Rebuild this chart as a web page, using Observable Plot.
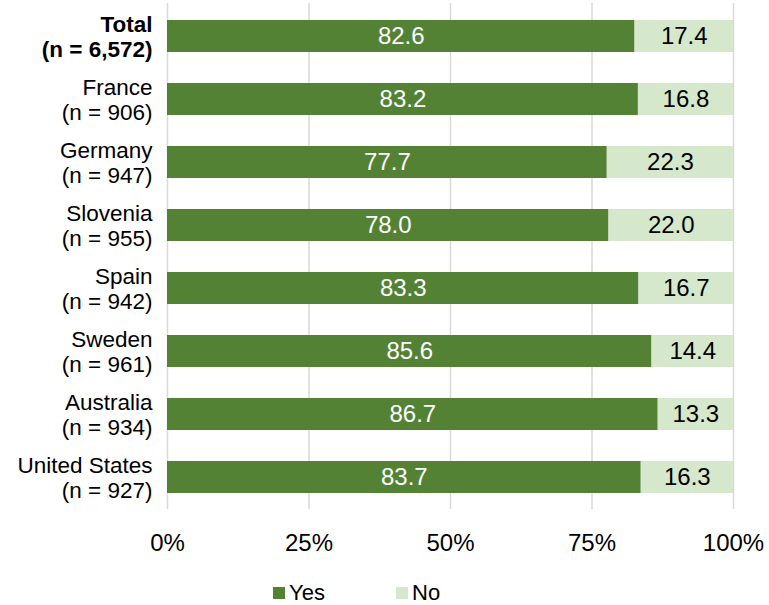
<!DOCTYPE html>
<html>
<head>
<meta charset="utf-8">
<script src="https://cdn.jsdelivr.net/npm/d3@7"></script>
<script src="https://cdn.jsdelivr.net/npm/@observablehq/plot@0.6"></script>
<style>
  body { margin: 0; background: #fff; font-family: "Liberation Sans", Arial, sans-serif; }
  #chart svg { display: block; }
  .legend { position: relative; height: 35px; font-size: 22px; color: #000; }
  .legend .item { position: absolute; top: 11px; display: flex; align-items: center; line-height: 24px; }
  .legend .sw { width: 12px; height: 12px; margin-right: 4px; display: inline-block; }
</style>
</head>
<body>
<div id="chart"></div>
<div class="legend">
  <div class="item" style="left:273px"><span class="sw" style="background:#548235"></span>Yes</div>
  <div class="item" style="left:396px"><span class="sw" style="background:#D5E8CB"></span>No</div>
</div>
<script>
const categories = ["Total", "France", "Germany", "Slovenia", "Spain", "Sweden", "Australia", "United States"];
const sampleSizes = ["6,572", "906", "947", "955", "942", "961", "934", "927"];
const yesValues = [82.6, 83.2, 77.7, 78.0, 83.3, 85.6, 86.7, 83.7];
const noValues = [17.4, 16.8, 22.3, 22.0, 16.7, 14.4, 13.3, 16.3];
const seriesNames = ["Yes", "No"];
const seriesColors = ["#548235", "#D5E8CB"];
const xTicks = [0, 0.25, 0.5, 0.75, 1];

const rows = [];
categories.forEach((c, i) => {
  rows.push({cat: c, series: "Yes", value: yesValues[i] / 100, x1: 0, x2: yesValues[i] / 100});
  rows.push({cat: c, series: "No", value: noValues[i] / 100, x1: yesValues[i] / 100, x2: (yesValues[i] + noValues[i]) / 100});
});
const labels = categories.map((c, i) => ({cat: c, label: `${c}\n(n = ${sampleSizes[i]})`}));

const font = "Liberation Sans, Arial, sans-serif";

const chart = Plot.plot({
  width: 769,
  height: 570,
  marginLeft: 167,
  marginRight: 36,
  marginTop: 3,
  marginBottom: 61,
  style: {fontFamily: font, fontSize: "24px", color: "#000", background: "#fff"},
  x: {domain: [0, 1], label: null},
  y: {domain: categories, padding: 0.5, paddingOuter: 0.25, axis: null},
  color: {domain: seriesNames, range: seriesColors},
  marks: [
    Plot.ruleX(xTicks, {stroke: "#d9d9d9", strokeWidth: 1.5}),
    Plot.barX(rows, {y: "cat", x1: "x1", x2: "x2", fill: "series"}),
    Plot.text(rows.filter(d => d.series === "Yes"), {
      y: "cat", x: d => (d.x1 + d.x2) / 2, text: d => d3.format(".1f")(d.value * 100),
      fill: "white", fontSize: 24
    }),
    Plot.text(rows.filter(d => d.series === "No"), {
      y: "cat", x: d => (d.x1 + d.x2) / 2, text: d => d3.format(".1f")(d.value * 100),
      fill: "black", fontSize: 24
    }),
    Plot.text(labels.filter(d => d.cat === "Total"), {
      y: "cat", frameAnchor: "left", dx: -15, textAnchor: "end", text: "label",
      fontWeight: "bold", lineHeight: 1.09, fontSize: 22.5, fill: "black"
    }),
    Plot.text(labels.filter(d => d.cat !== "Total"), {
      y: "cat", frameAnchor: "left", dx: -15, textAnchor: "end", text: "label",
      lineHeight: 1.09, fontSize: 22.5, fill: "black"
    }),
    Plot.axisX({ticks: xTicks, tickFormat: d3.format(".0%"), tickSize: 0, tickPadding: 24, fontSize: 24, label: null})
  ]
});
document.getElementById("chart").appendChild(chart);
</script>
</body>
</html>
